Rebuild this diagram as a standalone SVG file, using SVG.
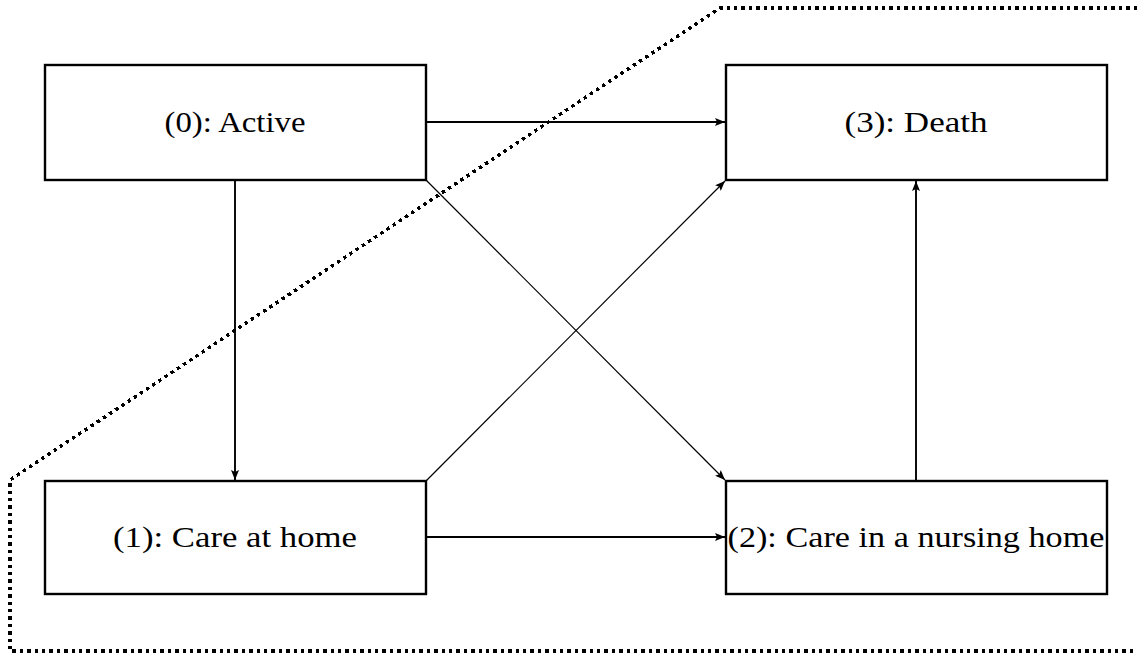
<svg xmlns="http://www.w3.org/2000/svg" width="1137" height="654" viewBox="0 0 1137 654">
  <defs>
    <style>
      .box { fill: #fff; stroke: #000; stroke-width: 2.4; }
      .label { font-family: "Liberation Serif", "DejaVu Serif", serif; font-size: 29px; fill: #000; text-anchor: middle; }
      .edge { fill: none; stroke: #000; stroke-width: 1.9; marker-end: url(#arrow); }
      .edge.thin { stroke-width: 1.2; }
      .boundary { fill: none; stroke: #000; stroke-width: 3.4; stroke-dasharray: 3.4 4; shape-rendering: crispEdges; }
    </style>
    <marker id="arrow" viewBox="0 0 10 8" refX="10" refY="4" markerWidth="10" markerHeight="8" markerUnits="userSpaceOnUse" orient="auto">
      <path d="M0,0 L10,4 L0,8 L2,4 Z" fill="#000"/>
    </marker>
  </defs>

  <rect width="1137" height="654" fill="#fff"/>

  <!-- dotted boundary -->
  <path class="boundary" d="M1137,8 L720,8 L10,480 L10,651 L1137,651"/>

  <g id="connectors">
    <line class="edge" x1="426" y1="122" x2="725" y2="122"/>
    <line class="edge" x1="235" y1="181" x2="235" y2="480"/>
    <line class="edge thin" x1="426" y1="180" x2="725" y2="480"/>
    <line class="edge thin" x1="426" y1="481" x2="725" y2="181"/>
    <line class="edge" x1="426" y1="537" x2="725" y2="537"/>
    <line class="edge" x1="916" y1="480" x2="916" y2="181"/>
  </g>

  <g id="node0">
    <rect class="box" x="45" y="65" width="381" height="115"/>
    <text class="label" x="235" y="132" textLength="141" lengthAdjust="spacingAndGlyphs">(0): Active</text>
  </g>
  <g id="node3">
    <rect class="box" x="726" y="65" width="381" height="115"/>
    <text class="label" x="916" y="132" textLength="143" lengthAdjust="spacingAndGlyphs">(3): Death</text>
  </g>
  <g id="node1">
    <rect class="box" x="45" y="481" width="381" height="113"/>
    <text class="label" x="235" y="547" textLength="244" lengthAdjust="spacingAndGlyphs">(1): Care at home</text>
  </g>
  <g id="node2">
    <rect class="box" x="726" y="481" width="381" height="113"/>
    <text class="label" x="916" y="547" textLength="377" lengthAdjust="spacingAndGlyphs">(2): Care in a nursing home</text>
  </g>
</svg>
